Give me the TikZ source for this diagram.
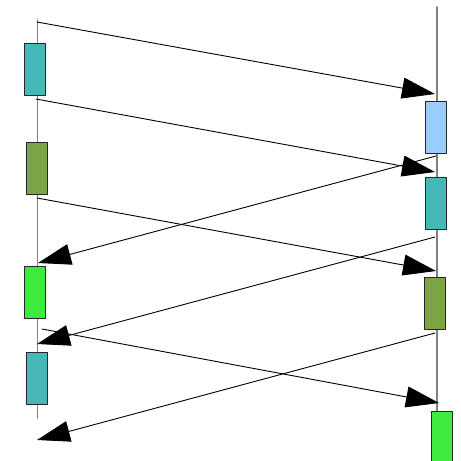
\documentclass[tikz,border=0pt]{standalone}
\usetikzlibrary{arrows.meta}

\definecolor{tealbox}{RGB}{70,184,184}
\definecolor{olivebox}{RGB}{123,164,70}
\definecolor{greenbox}{RGB}{61,235,61}
\definecolor{bluebox}{RGB}{153,204,255}

\begin{document}
\begin{tikzpicture}[x=1pt, y=-1pt, line cap = round, line join = round, >={Triangle[length=33pt,width=21pt]}]
\tikzstyle{life}=[draw=gray, line width=1.8pt]
\tikzstyle{act}=[rectangle, draw=black!85, line width=1pt, minimum width=21pt, minimum height=52pt, inner sep=0pt]
\tikzstyle{msg}=[->, draw=black, line width=0.9pt]
\useasboundingbox (0,0) rectangle (461,461);

% lifelines
\coordinate (leftTop) at (37.5,20);
\coordinate (leftEnd) at (37.5,418);
\coordinate (rightTop) at (436.7,7);
\coordinate (rightEnd) at (436.7,420);
\draw[life] (leftTop) -- (leftEnd);
\draw[life] (rightTop) -- (rightEnd);

% activation boxes, left side
\node[act, fill=tealbox]  (L1) at (35.2,69.3)  {};
\node[act, fill=olivebox] (L2) at (37.2,168.7) {};
\node[act, fill=greenbox] (L3) at (35.2,292.3) {};
\node[act, fill=tealbox]  (L4) at (37.2,378.2) {};
% activation boxes, right side
\node[act, fill=bluebox]  (R1) at (436,127)    {};
\node[act, fill=tealbox]  (R2) at (436,203.5)  {};
\node[act, fill=olivebox] (R3) at (434.7,303)  {};
\node[act, fill=greenbox] (R4) at (442,437.3)  {};

% message ends
\coordinate (s1) at (37,22);    \coordinate (e1) at (435,94);
\coordinate (s2) at (36,99);    \coordinate (e2) at (435,172);
\coordinate (s3) at (436,156);  \coordinate (e3) at (38,263);
\coordinate (s4) at (37,198);   \coordinate (e4) at (436,271);
\coordinate (s5) at (435,237);  \coordinate (e5) at (37,344);
\coordinate (s6) at (42,329);   \coordinate (e6) at (439,403);
\coordinate (s7) at (435,333);  \coordinate (e7) at (37,440);

\draw[msg] (s1) -- (e1);
\draw[msg] (s2) -- (e2);
\draw[msg] (s3) -- (e3);
\draw[msg] (s4) -- (e4);
\draw[msg] (s5) -- (e5);
\draw[msg] (s6) -- (e6);
\draw[msg] (s7) -- (e7);
\end{tikzpicture}
\end{document}
